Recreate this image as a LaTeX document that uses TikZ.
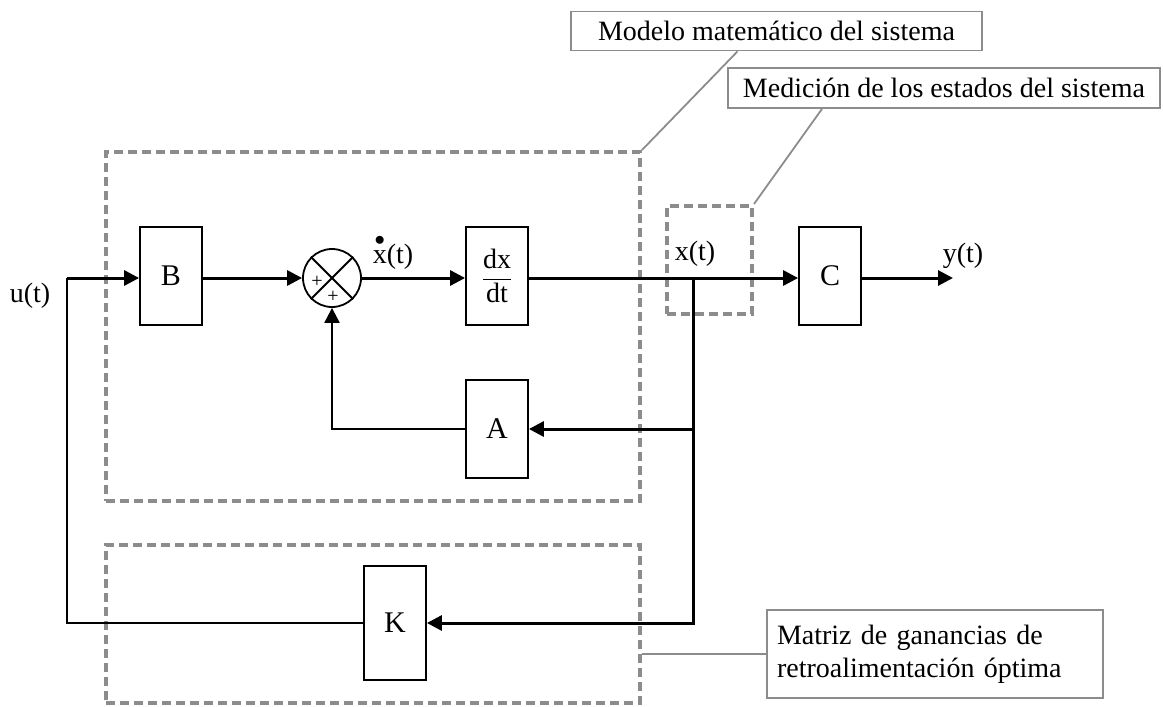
\documentclass[tikz,border=0pt]{standalone}
\usepackage{amsmath}
\usepackage{fontspec}
\setmainfont{Liberation Serif}
\usetikzlibrary{arrows.meta}
\begin{document}
\begin{tikzpicture}[x=1pt,y=-1pt,
  txt/.style={font=\fontsize{28}{32}\selectfont},
  blk/.style={draw,line width=1.8pt,minimum width=62pt,minimum height=98pt,inner sep=0pt,font=\fontsize{30}{34}\selectfont},
  arr/.style={line width=3pt,-{Triangle[length=15pt,width=15pt]}},
  thinarr/.style={line width=2.2pt,-{Triangle[length=15pt,width=15pt]}},
  thin/.style={line width=1.8pt},
  dbox/.style={draw=black!45,line width=4pt,dash pattern=on 9pt off 5pt,inner sep=0pt},
  lbox/.style={draw=black!45,line width=1.8pt,fill=white,inner sep=0pt,txt},
  lline/.style={draw=black!45,line width=1.8pt}
]
\useasboundingbox (0,0) rectangle (1163,707);

% dashed groups
\node[dbox,minimum width=534pt,minimum height=349pt] (M) at (373,326.5) {};
\node[dbox,minimum width=85pt,minimum height=108pt] (Meas) at (709.5,260) {};
\node[dbox,minimum width=534pt,minimum height=158pt] (KG) at (373,624) {};

% blocks
\node[blk] (B) at (171,276) {B};
\node[draw,circle,line width=1.8pt,minimum size=58pt,inner sep=0pt] (S) at (332,278) {};
\draw[thin] (S.north west) -- (S.south east);
\draw[thin] (S.north east) -- (S.south west);
\node[font=\fontsize{20}{22}\selectfont,inner sep=0pt] (p1) at (317,282) {+};
\node[font=\fontsize{20}{22}\selectfont,inner sep=0pt] (p2) at (333,297) {+};
\node[blk,font=\fontsize{28}{32}\selectfont] (D) at (497,276) {$\dfrac{\mathrm{dx}}{\mathrm{dt}}$};
\node[blk] (C) at (830,276) {C};
\node[blk] (A) at (497,429) {A};
\node[blk,minimum height=114pt] (K) at (395,623) {K};

% signal labels
\node[txt] (u) at (30,296) {u(t)};
\node[txt] (xd) at (393,252) {$\overset{\bullet}{\mathrm{x}}$(t)};
\node[txt] (xl) at (695,254) {x(t)};
\node[txt] (yl) at (963,256) {y(t)};

% coordinates
\coordinate (uc) at (67,278);
\coordinate (J) at (693,278);
\coordinate (yend) at (953,278);

% connectors
\draw[arr] (uc) -- (B.west |- uc);
\draw[arr] (B.east |- uc) -- (S.west);
\draw[arr] (S.east) -- (D.west |- S.east);
\draw[arr] (D.east |- J) -- (C.west |- J);
\draw[arr] (C.east |- J) -- (yend);
\draw[arr] (J) |- (A.east);
\draw[thinarr] (A.west) -| (S.south);
\draw[arr] (J) |- (K.east);
\draw[thin] (K.west) -| (uc);

% annotation boxes
\node[lbox,minimum width=411pt,minimum height=39pt] (LM) at (776.5,31) {Modelo matemático del sistema};
\node[lbox,minimum width=432pt,minimum height=40pt] (LMe) at (944,88) {Medición de los estados del sistema};
\node[lbox,minimum width=336pt,minimum height=88pt,align=left,text width=316pt,font=\fontsize{28}{33}\selectfont] (LK) at (935,654) {Matriz de ganancias de\\retroalimentación óptima};

\draw[lline] (M.north east) -- ([xshift=-39pt]LM.south);
\draw[lline] (Meas.north east) -- ([xshift=-122pt]LMe.south);
\draw[lline] (LK.west) -- (LK.west -| KG.east);
\end{tikzpicture}
\end{document}
